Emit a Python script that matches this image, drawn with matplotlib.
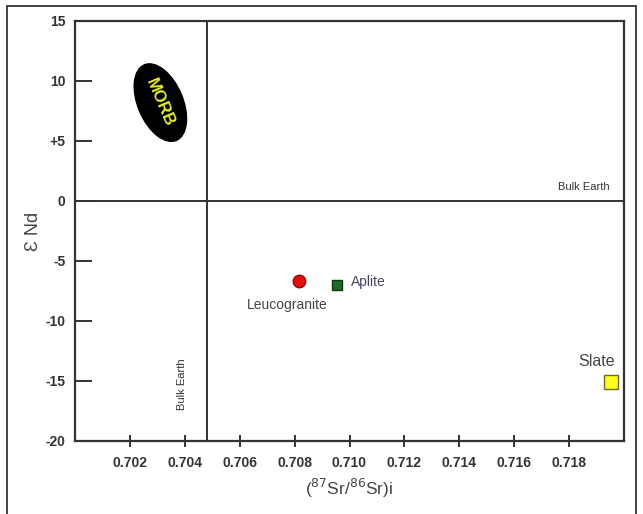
import matplotlib
matplotlib.use('Agg')
import matplotlib.pyplot as plt
from matplotlib.patches import Ellipse, Rectangle
from matplotlib.transforms import ScaledTranslation

plt.rcParams['font.family'] = ['Liberation Sans', 'DejaVu Sans']

# samples: initial 87Sr/86Sr vs epsilon Nd
names = ['Leucogranite', 'Aplite', 'Slate']
sr_i = [0.70816, 0.70956, 0.71953]
eps_nd = [-6.7, -7.0, -15.1]
face = ['#e01010', '#1f6b25', '#ffff1a']
edge = ['#8a0a0a', '#0c3a10', '#6e6e20']
shape = ['o', 's', 's']
msize = [9, 7.5, 9.5]

bulk_sr = 0.7048
bulk_nd = 0.0
morb_center = (0.70311, 8.2)

xticks = [0.702, 0.704, 0.706, 0.708, 0.710, 0.712, 0.714, 0.716, 0.718]
yticks = [15, 10, 5, 0, -5, -10, -15, -20]
ylabels = ['15', '10', '+5', '0', '-5', '-10', '-15', '-20']

fig = plt.figure(figsize=(6.43, 5.14), dpi=100)
ax = fig.add_axes([75/643, 1 - 441/514, 549/643, 420/514])

# outer frame
fig.patches.append(Rectangle((7/643, -0.02), 629/643, 1 - 6/514 + 0.02,
                             transform=fig.transFigure, fill=False,
                             edgecolor='#222222', linewidth=1.2))

ax.set_xlim(0.700, 0.720)
ax.set_ylim(-20, 15)

dark = '#333333'
ax.axhline(bulk_nd, color=dark, lw=1.4)
ax.axvline(bulk_sr, color=dark, lw=1.4)

for i in range(len(names)):
    ax.plot(sr_i[i], eps_nd[i], marker=shape[i], ms=msize[i], color=face[i],
            markeredgecolor=edge[i], markeredgewidth=1, linestyle='none', zorder=5)

ax.text(0.70773, -8.7, 'Leucogranite', ha='center', va='center', fontsize=10, color='#444444')
ax.text(0.71005, -6.75, 'Aplite', ha='left', va='center', fontsize=10, color='#444466')
ax.text(0.7190, -13.4, 'Slate', ha='center', va='center', fontsize=11.5, color='#444444')
ax.text(0.71947, 1.15, 'Bulk Earth', ha='right', va='center', fontsize=8, color='#333333')
ax.text(0.70391, -15.3, 'Bulk Earth', ha='center', va='center', rotation=90,
        fontsize=8, color='#333333')

# MORB field, sized in screen units
tr = fig.dpi_scale_trans + ScaledTranslation(morb_center[0], morb_center[1], ax.transData)
ax.add_patch(Ellipse((0, 0), 0.82, 0.45, angle=-67, transform=tr,
                     facecolor='black', edgecolor='black', zorder=4))
ax.text(morb_center[0], morb_center[1], 'MORB', rotation=-67, ha='center', va='center',
        fontsize=12, fontweight='bold', color='#e8f020', zorder=6)

for s in ax.spines.values():
    s.set_color(dark)
    s.set_linewidth(1.6)

ax.set_xticks(xticks)
ax.set_xticklabels(['%.3f' % v for v in xticks])
ax.set_yticks(yticks)
ax.set_yticklabels(ylabels)
ax.tick_params(axis='x', direction='inout', length=9, width=1.4, colors=dark,
               labelsize=10, pad=6)
ax.tick_params(axis='y', direction='in', length=12, width=1.4, colors=dark,
               labelsize=10, pad=7)
for lab in ax.get_xticklabels() + ax.get_yticklabels():
    lab.set_fontweight('bold')
    lab.set_color('#333333')

ax.set_xlabel(r'($^{87}$Sr/$^{86}$Sr)i', fontsize=12.5, color='#444444', labelpad=5)
ax.set_ylabel('\u0190 Nd', fontsize=13, color='#444444', labelpad=2)

fig.savefig('out.png', dpi=100)
